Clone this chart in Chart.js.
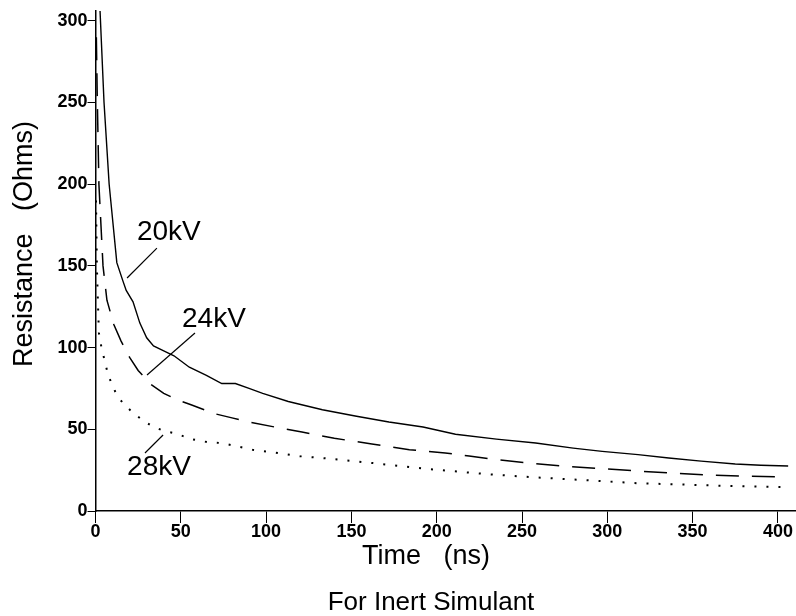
<!DOCTYPE html>
<html>
<head>
<meta charset="utf-8">
<script src="https://cdn.jsdelivr.net/npm/chart.js@4.4.1/dist/chart.umd.min.js"></script>
<style>
  html, body { margin: 0; padding: 0; background: #fff; }
  #wrap { width: 796px; height: 616px; }
</style>
</head>
<body>
<div id="wrap"><canvas id="resChart"></canvas></div>
<script>
// Time (ns) and resistance (Ohms), one pair of arrays per voltage
const t20 = [2.5, 5, 8, 12.5, 16, 18, 22, 26, 30, 34, 40, 46, 55, 65, 74, 82, 90, 98, 113, 133, 153, 172, 192, 211, 235, 258, 280, 297, 318, 336, 355, 375, 390, 406];
const r20 = [310, 250, 200, 152, 141, 135, 128, 115, 106, 101, 98, 95, 88, 83, 78, 78, 75, 72, 67, 62, 58, 54.5, 51.4, 47, 44, 41.6, 38.5, 36.5, 34.5, 32.4, 30.5, 28.8, 28, 27.5];

const t24 = [0.5, 1, 2, 4.4, 6.7, 10.8, 15, 20, 25, 32.5, 40, 48, 56, 70, 80, 90, 105, 121, 140, 162, 184, 205, 219, 232, 252, 273, 295, 317, 338, 360, 380, 405];
const r24 = [290, 255, 200, 150, 129, 114, 104, 94, 86, 77.5, 72, 68, 65, 59.5, 57, 54.5, 51.4, 48.3, 44.5, 41, 37.5, 35.5, 33.7, 31.8, 29.6, 27.5, 26, 24.5, 23.2, 22, 21.3, 20.8];

const t28 = [0.3, 0.8, 1.5, 2, 3.5, 5, 7, 9, 12, 16, 21.5, 27, 33, 40, 47, 56, 66.5, 74, 92, 103.5, 120, 133, 162, 195, 229, 254, 285, 318, 350, 375, 399, 405];
const r28 = [190, 150, 125, 109, 100, 93.6, 85, 79, 72, 66, 60.6, 56, 52, 49, 47.5, 44, 42, 41.6, 37.5, 36, 33.5, 32.4, 29.4, 25.7, 22.6, 20.8, 19, 17, 16, 15.2, 14.7, 14.6];

const seriesNames = ['20kV', '24kV', '28kV'];
const xTickValues = [0, 50, 100, 150, 200, 250, 300, 350, 400];
const yTickValues = [0, 50, 100, 150, 200, 250, 300];

const FONT = "'Liberation Sans', Arial, sans-serif";

function toPoints(ts, rs) {
  return ts.map((t, i) => ({ x: t, y: rs[i] }));
}

// callout labels and their leader lines, given in data units
const callouts = [
  { text: seriesNames[0], at: [24.3, 165.8], from: [36.0, 160.9], to: [18.5, 142.6] },
  { text: seriesNames[1], at: [50.7, 112.6], from: [58.3, 108.9], to: [30.2, 83.2] },
  { text: seriesNames[2], at: [18.5, 22.0], from: [39.6, 46.5], to: [29.0, 35.5] }
];

const textPlugin = {
  id: 'plotText',
  afterDatasetsDraw(chart) {
    const ctx = chart.ctx;
    const xs = chart.scales.x;
    const ys = chart.scales.y;
    ctx.save();
    ctx.fillStyle = '#000';
    ctx.strokeStyle = '#000';

    // callouts
    ctx.font = '28px ' + FONT;
    ctx.textAlign = 'left';
    ctx.textBaseline = 'alphabetic';
    ctx.lineWidth = 1.2;
    callouts.forEach(c => {
      ctx.fillText(c.text, xs.getPixelForValue(c.at[0]), ys.getPixelForValue(c.at[1]));
      ctx.beginPath();
      ctx.moveTo(xs.getPixelForValue(c.from[0]), ys.getPixelForValue(c.from[1]));
      ctx.lineTo(xs.getPixelForValue(c.to[0]), ys.getPixelForValue(c.to[1]));
      ctx.stroke();
    });

    // axis titles and caption
    ctx.textAlign = 'center';
    ctx.textBaseline = 'middle';
    ctx.font = '27px ' + FONT;
    ctx.fillText('Time   (ns)', 426, 557);
    ctx.font = '26px ' + FONT;
    ctx.fillText('For Inert Simulant', 431, 603);

    ctx.translate(25, 244);
    ctx.rotate(-Math.PI / 2);
    ctx.font = '27px ' + FONT;
    ctx.fillText('Resistance   (Ohms)', 0, 0);
    ctx.restore();
  }
};

const ctx = document.getElementById('resChart').getContext('2d');
new Chart(ctx, {
  type: 'line',
  data: {
    datasets: [
      {
        label: seriesNames[0],
        data: toPoints(t20, r20),
        borderColor: '#000',
        borderWidth: 1.4
      },
      {
        label: seriesNames[1],
        data: toPoints(t24, r24),
        borderColor: '#000',
        borderWidth: 1.5,
        borderDash: [23, 13]
      },
      {
        label: seriesNames[2],
        data: toPoints(t28, r28),
        borderColor: '#000',
        borderWidth: 2,
        borderDash: [2, 10]
      }
    ]
  },
  options: {
    responsive: true,
    maintainAspectRatio: false,
    animation: false,
    events: [],
    elements: {
      point: { radius: 0 },
      line: { tension: 0, fill: false }
    },
    layout: { padding: { top: 11, right: 0, bottom: 0, left: 0 } },
    plugins: {
      legend: { display: false },
      tooltip: { enabled: false }
    },
    scales: {
      x: {
        type: 'linear',
        min: 0,
        max: 410.6,
        afterBuildTicks: s => { s.ticks = xTickValues.map(v => ({ value: v })); },
        afterFit: s => { s.height = 105; },
        border: { display: true, color: '#000', width: 1.5 },
        grid: { drawOnChartArea: false, drawTicks: true, tickLength: 12, color: '#000', tickWidth: 1 },
        ticks: {
          color: '#000',
          padding: -2,
          maxRotation: 0,
          autoSkip: false,
          font: { family: FONT, size: 18, weight: 'bold' }
        }
      },
      y: {
        type: 'linear',
        min: 0,
        max: 306,
        afterBuildTicks: s => { s.ticks = yTickValues.map(v => ({ value: v })); },
        afterFit: s => { s.width = 95.5; },
        border: { display: true, color: '#000', width: 1.5 },
        grid: { drawOnChartArea: false, drawTicks: true, tickLength: 8, color: '#000', tickWidth: 1 },
        ticks: {
          color: '#000',
          padding: 0,
          autoSkip: false,
          font: { family: FONT, size: 18, weight: 'bold' }
        }
      }
    }
  },
  plugins: [textPlugin]
});
</script>
</body>
</html>
